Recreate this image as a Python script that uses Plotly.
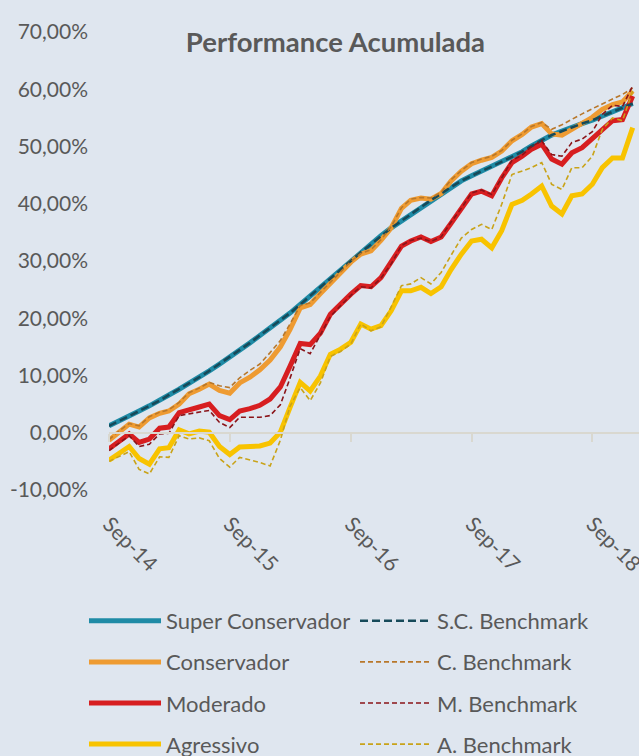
import pandas as pd
import plotly.graph_objects as go

# Monthly observations Sep-14 .. Jan-19
months = pd.date_range("2014-09-01", "2019-01-01", freq="MS")

y_ticks = [-10, 0, 10, 20, 30, 40, 50, 60, 70]
y_tick_labels = ["-10,00%", "0,00%", "10,00%", "20,00%", "30,00%", "40,00%", "50,00%", "60,00%", "70,00%"]

super_conservador = [1.2, 2.0, 2.9, 3.8, 4.7, 5.6, 6.6, 7.6, 8.6, 9.7, 10.8, 12.0, 13.2, 14.4, 15.7, 17.0, 18.3, 19.6, 20.9, 22.4,
                     23.9, 25.4, 26.9, 28.5, 30.0, 31.5, 32.9, 34.4, 35.8, 37.0, 38.2, 39.4, 40.6, 41.8, 42.9, 44.0, 44.9, 45.7,
                     46.5, 47.3, 48.2, 49.1, 50.1, 51.1, 52.0, 52.7, 53.4, 54.0, 54.6, 55.3, 56.0, 56.7, 57.5]
sc_benchmark = [1.2, 2.0, 2.9, 3.8, 4.7, 5.6, 6.6, 7.6, 8.6, 9.7, 10.8, 12.0, 13.2, 14.4, 15.7, 17.0, 18.3, 19.6, 20.9, 22.4,
                23.9, 25.4, 26.9, 28.5, 30.0, 31.5, 32.9, 34.4, 35.8, 37.0, 38.2, 39.4, 40.6, 41.8, 42.9, 44.0, 44.9, 45.7,
                46.5, 47.3, 48.2, 49.1, 50.1, 51.1, 52.0, 52.7, 53.4, 54.0, 54.6, 55.3, 56.0, 56.7, 57.5]
conservador = [-1.3, 0.1, 1.5, 1.0, 2.6, 3.4, 3.8, 5.0, 6.8, 7.6, 8.5, 7.4, 6.9, 8.7, 9.7, 11.0, 12.7, 15.0, 18.0, 21.8,
               22.4, 24.3, 26.2, 28.0, 29.8, 31.2, 31.8, 33.6, 35.8, 39.2, 40.6, 41.0, 40.8, 41.8, 44.0, 45.7, 47.0, 47.6,
               48.1, 49.2, 51.0, 52.1, 53.4, 54.0, 52.2, 52.0, 53.0, 53.9, 55.1, 56.5, 57.3, 57.8, 59.7]
c_benchmark = [-1.2, 0.3, 1.6, 1.2, 2.8, 3.6, 4.0, 5.3, 7.0, 7.8, 8.8, 8.2, 7.9, 9.6, 10.9, 12.0, 14.0, 16.1, 19.0, 22.2,
               22.7, 24.5, 26.4, 28.1, 29.9, 31.3, 32.0, 33.7, 36.0, 39.3, 40.8, 41.1, 41.0, 42.0, 44.2, 45.8, 47.2, 47.8,
               48.3, 49.3, 51.1, 52.2, 53.5, 54.2, 53.0, 53.8, 54.8, 55.7, 56.6, 57.5, 58.3, 59.1, 60.2]
moderado = [-2.8, -1.5, -0.2, -1.7, -1.1, 0.8, 1.0, 3.5, 4.1, 4.5, 5.0, 3.0, 2.3, 3.8, 4.2, 4.8, 5.9, 8.0, 11.6, 15.6,
            15.4, 17.4, 20.7, 22.5, 24.2, 25.7, 25.5, 27.1, 29.7, 32.6, 33.5, 34.2, 33.4, 34.2, 36.6, 39.0, 41.7, 42.2,
            41.4, 44.5, 47.2, 48.3, 49.5, 50.4, 47.8, 46.9, 48.9, 49.8, 51.3, 53.0, 54.5, 54.7, 58.8]
m_benchmark = [-3.1, -1.8, -0.5, -2.4, -2.0, -0.2, -0.1, 3.0, 3.3, 3.6, 3.9, 1.8, 0.9, 2.7, 2.7, 2.7, 3.0, 4.9, 9.5, 14.7,
               13.8, 17.0, 20.3, 22.2, 24.0, 25.5, 25.3, 27.0, 29.5, 32.7, 33.6, 34.0, 33.4, 34.2, 36.8, 39.2, 41.9, 42.4,
               41.6, 44.5, 47.6, 48.5, 50.0, 51.0, 48.6, 48.3, 50.7, 51.3, 52.6, 55.6, 57.2, 57.0, 60.6]
agressivo = [-4.8, -3.6, -2.4, -4.5, -5.5, -2.8, -2.6, 0.5, -0.2, 0.3, 0.1, -2.4, -3.8, -2.5, -2.4, -2.3, -1.8, 0.1, 4.4, 8.8,
             7.3, 9.9, 13.7, 14.6, 15.8, 19.0, 18.1, 18.7, 21.3, 24.8, 24.8, 25.4, 24.3, 25.5, 28.5, 31.2, 33.5, 33.8,
             32.3, 35.3, 39.9, 40.6, 41.7, 43.1, 39.6, 38.2, 41.4, 41.7, 43.4, 46.3, 48.0, 48.0, 53.3]
a_benchmark = [-5.0, -4.2, -3.3, -6.4, -7.2, -4.2, -4.3, -0.5, -1.1, -0.9, -1.4, -4.5, -6.0, -4.3, -4.7, -5.2, -5.8, -1.3, 4.6, 7.9,
               5.6, 8.7, 13.3, 14.2, 15.5, 19.0, 17.8, 18.5, 22.0, 25.7, 26.0, 27.1, 26.0, 28.0, 31.0, 34.0, 35.5, 36.4,
               35.5, 39.9, 45.1, 45.7, 46.3, 47.2, 43.4, 42.5, 46.3, 46.3, 48.3, 53.0, 55.0, 54.5, 59.7]

funds = [
    ("Super Conservador", super_conservador, "#1f8ba6"),
    ("Conservador", conservador, "#ee9b32"),
    ("Moderado", moderado, "#d71e20"),
    ("Agressivo", agressivo, "#f8c300"),
]
benchmarks = [
    ("S.C. Benchmark", sc_benchmark, "#164a5a", 2.6, "8px,4px"),
    ("C. Benchmark", c_benchmark, "#b8772a", 1.6, "5px,3px"),
    ("M. Benchmark", m_benchmark, "#8a1419", 1.6, "5px,3px"),
    ("A. Benchmark", a_benchmark, "#c9a319", 1.6, "5px,3px"),
]

FONT = "Lato"
GREY = "#595959"

fig = go.Figure()
for name, vals, col in funds:
    fig.add_trace(go.Scatter(x=months, y=vals, name=name, mode="lines",
                             line=dict(color=col, width=5),
                             legend="legend", legendgroup=name))
for name, vals, col, w, dash in benchmarks:
    fig.add_trace(go.Scatter(x=months, y=vals, name=name, mode="lines",
                             line=dict(color=col, width=w, dash=dash),
                             legend="legend2", legendgroup=name))

fig.update_layout(
    width=639, height=756,
    margin=dict(l=109, r=0, t=32, b=266, autoexpand=False),
    paper_bgcolor="#dfe6ef", plot_bgcolor="#dfe6ef",
    font=dict(family=FONT, color=GREY, size=20),
    title=dict(text="<b>Performance Acumulada</b>", x=0.525, xanchor="center",
               y=1 - 42 / 756, yanchor="middle", font=dict(family=FONT, size=27.5, color=GREY)),
    xaxis=dict(type="date", range=["2014-09-01", "2019-01-20"], tick0="2014-09-01", dtick="M12",
               tickformat="%b-%y", tickangle=45, anchor="free", position=0.125, automargin=False,
               showline=True, linecolor="#d9d8d0", linewidth=2, ticks="outside", ticklen=8,
               tickwidth=2, tickcolor="#d9d8d0", showgrid=False, zeroline=False,
               ticklabeloverflow="allow",
               ticklabelstandoff=62, tickfont=dict(family=FONT, size=21, color=GREY)),
    yaxis=dict(range=[-10, 70], tickmode="array", tickvals=y_ticks, ticktext=y_tick_labels,
               showgrid=False, automargin=False,
               zeroline=False, showline=False, ticks="", ticklabelstandoff=20,
               tickfont=dict(family=FONT, size=21, color=GREY)),
    legend=dict(xref="container", yref="container", x=84 / 639, y=1 - 600 / 756,
                xanchor="left", yanchor="top", orientation="v", itemwidth=72,
                tracegroupgap=9.5, bgcolor="rgba(0,0,0,0)", font=dict(family=FONT, size=22, color=GREY)),
    legend2=dict(xref="container", yref="container", x=355 / 639, y=1 - 600 / 756,
                 xanchor="left", yanchor="top", orientation="v", itemwidth=72,
                 tracegroupgap=9.5, bgcolor="rgba(0,0,0,0)", font=dict(family=FONT, size=22, color=GREY)),
)

fig.write_html("out.html")
